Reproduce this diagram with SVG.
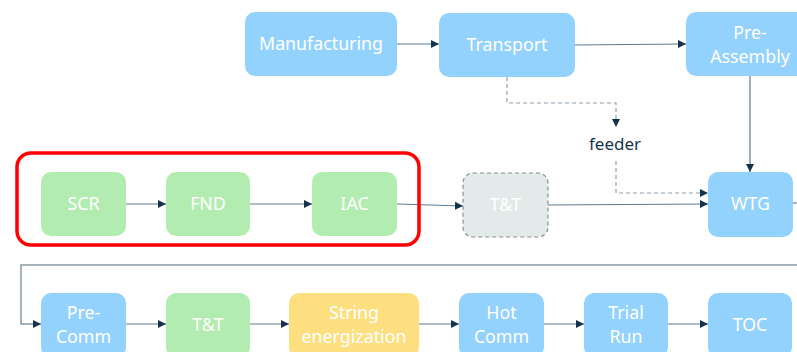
<svg xmlns="http://www.w3.org/2000/svg" width="797" height="352" viewBox="0 0 797 352">
<style>
.t{font-family:"Source Sans Pro","Noto Sans","Liberation Sans",sans-serif;font-size:17.8px;fill:#ffffff;text-anchor:middle}
.blue{fill:#94d2fe}
.green{fill:#b3ecb0}
.yellow{fill:#fedf80}
.c{fill:none;stroke:#5f7a92;stroke-width:1.2}
.d{fill:none;stroke:#8fa0ad;stroke-width:1.2;stroke-dasharray:4 3}
</style>
<defs>
<marker id="a" viewBox="0 0 10 10" refX="10" refY="5" markerWidth="8" markerHeight="8" markerUnits="userSpaceOnUse" orient="auto">
<path d="M0,0 L10,5 L0,10 Z" fill="#17324d"/>
</marker>
</defs>
<rect x="0" y="0" width="797" height="352" fill="#ffffff"/>
<g id="connectors">
<path class="c" d="M397,44 L439,44" marker-end="url(#a)"/>
<path class="c" d="M575,45 L686,44" marker-end="url(#a)"/>
<path class="d" d="M507,77 L507,103 L616,103 L616,127" marker-end="url(#a)"/>
<path class="d" d="M616,161 L616,193 L708,193" marker-end="url(#a)"/>
<path class="c" d="M750,76 L750,172" marker-end="url(#a)"/>
<path class="c" d="M126,204 L166,204" marker-end="url(#a)"/>
<path class="c" d="M250,204 L312,204" marker-end="url(#a)"/>
<path class="c" d="M397,204 L463,206" marker-end="url(#a)"/>
<path class="c" d="M548,205 L708,204" marker-end="url(#a)"/>
<path d="M793,203 L800,203 L800,265 L21,265 L21,324 L41,324" fill="none" stroke="#8799a8" stroke-width="1.5" marker-end="url(#a)"/>
<path class="c" d="M126,324 L166,324" marker-end="url(#a)"/>
<path class="c" d="M250,324 L289,324" marker-end="url(#a)"/>
<path class="c" d="M419,324 L459,324" marker-end="url(#a)"/>
<path class="c" d="M544,324 L584,324" marker-end="url(#a)"/>
<path class="c" d="M668,324 L708,324" marker-end="url(#a)"/>
</g>
<g id="group-highlight"><rect x="17" y="153" width="402" height="92" rx="14" fill="none" stroke="#ff0000" stroke-width="3.5"/></g>
<g id="manufacturing"><rect class="blue" x="245" y="12" width="152" height="64" rx="10"/><text class="t" x="321" y="50">Manufacturing</text></g>
<g id="transport"><rect class="blue" x="439" y="13" width="136" height="64" rx="10"/><text class="t" x="507" y="51">Transport</text></g>
<g id="pre-assembly"><rect class="blue" x="686" y="12" width="128" height="64" rx="10"/><text class="t" x="750" y="39">Pre-</text><text class="t" x="750" y="63">Assembly</text></g>
<g id="feeder"><text x="615" y="150" font-family="Source Sans Pro,Noto Sans,Liberation Sans,sans-serif" font-size="17" fill="#17324d" text-anchor="middle">feeder</text></g>
<g id="scr"><rect class="green" x="41" y="172" width="85" height="64" rx="10"/><text class="t" x="83.5" y="210">SCR</text></g>
<g id="fnd"><rect class="green" x="166" y="172" width="84" height="64" rx="10"/><text class="t" x="208" y="210">FND</text></g>
<g id="iac"><rect class="green" x="312" y="172" width="85" height="64" rx="10"/><text class="t" x="354.5" y="210">IAC</text></g>
<g id="tt-pending"><rect x="463" y="173" width="85" height="64" rx="10" fill="#e3eaea" stroke="#8a8f93" stroke-width="1.2" stroke-dasharray="4 3"/><text class="t" x="505.5" y="211">T&amp;T</text></g>
<g id="wtg"><rect class="blue" x="708" y="172" width="85" height="65" rx="10"/><text class="t" x="750.5" y="210">WTG</text></g>
<g id="pre-comm"><rect class="blue" x="41" y="293" width="85" height="64" rx="10"/><text class="t" x="83.5" y="319">Pre-</text><text class="t" x="83.5" y="343">Comm</text></g>
<g id="tt"><rect class="green" x="166" y="293" width="84" height="64" rx="10"/><text class="t" x="208" y="331">T&amp;T</text></g>
<g id="string-energization"><rect class="yellow" x="289" y="293" width="130" height="64" rx="10"/><text class="t" x="354" y="319">String</text><text class="t" x="354" y="343">energization</text></g>
<g id="hot-comm"><rect class="blue" x="459" y="293" width="85" height="64" rx="10"/><text class="t" x="501.5" y="319">Hot</text><text class="t" x="501.5" y="343">Comm</text></g>
<g id="trial-run"><rect class="blue" x="584" y="293" width="84" height="64" rx="10"/><text class="t" x="626" y="319">Trial</text><text class="t" x="626" y="343">Run</text></g>
<g id="toc"><rect class="blue" x="708" y="293" width="84" height="64" rx="10"/><text class="t" x="750" y="331">TOC</text></g>
</svg>
